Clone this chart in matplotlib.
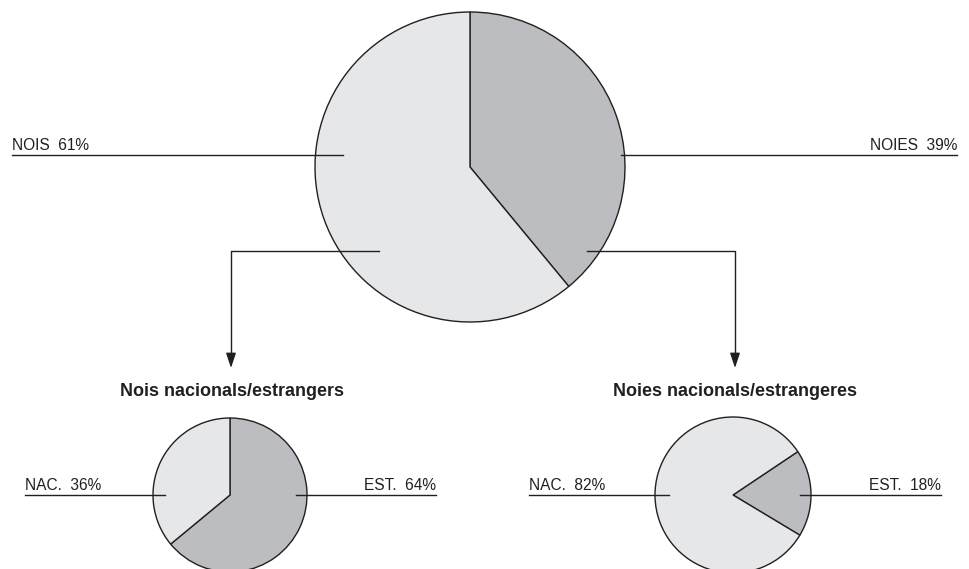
import matplotlib.pyplot as plt

plt.rcParams['font.family'] = ['Liberation Sans', 'DejaVu Sans']

# data
main_labels = ['NOIS', 'NOIES']
main_vals = [61, 39]
boys_labels = ['NAC.', 'EST.']
boys_vals = [36, 64]
girls_labels = ['NAC.', 'EST.']
girls_vals = [82, 18]
titles = ['Nois nacionals/estrangers', 'Noies nacionals/estrangeres']

light = '#e6e7e8'
gray = '#bcbdc0'
ink = '#231f20'

H = 569
def Y(y):
    # pixel row -> data y
    return H - y

fig = plt.figure(figsize=(9.69, 5.69), dpi=100)
ax = fig.add_axes([0, 0, 1, 1])

wp = dict(edgecolor=ink, linewidth=1.0)

# big pie: gray slice (NOIES) from 12 o'clock clockwise
ax.pie([main_vals[1], main_vals[0]], colors=[gray, light], startangle=90,
       counterclock=False, center=(470, Y(167)), radius=155,
       wedgeprops=wp, frame=True)

# boys pie
ax.pie([boys_vals[1], boys_vals[0]], colors=[gray, light], startangle=90,
       counterclock=False, center=(230, Y(495)), radius=77,
       wedgeprops=wp, frame=True)

# girls pie
ax.pie([girls_vals[1], girls_vals[0]], colors=[gray, light], startangle=-31,
       counterclock=True, center=(733, Y(495)), radius=78,
       wedgeprops=wp, frame=True)

fs = 11.2
# big pie labels
ax.plot([12, 343], [Y(155), Y(155)], color=ink, lw=1)
ax.plot([621, 957], [Y(155), Y(155)], color=ink, lw=1)
ax.text(12, Y(150), '%s  %d%%' % (main_labels[0], main_vals[0]), fontsize=fs,
        color=ink, ha='left', va='baseline')
ax.text(957, Y(150), '%s  %d%%' % (main_labels[1], main_vals[1]), fontsize=fs,
        color=ink, ha='right', va='baseline')

# small pie labels
for (x0, x1, x2, x3), labs, vals in [((25, 165, 296, 436), boys_labels, boys_vals),
                                     ((529, 669, 800, 941), girls_labels, girls_vals)]:
    ax.plot([x0, x1], [Y(495), Y(495)], color=ink, lw=1)
    ax.plot([x2, x3], [Y(495), Y(495)], color=ink, lw=1)
    ax.text(x0, Y(490), '%s  %d%%' % (labs[0], vals[0]), fontsize=fs,
            color=ink, ha='left', va='baseline')
    ax.text(x3, Y(490), '%s  %d%%' % (labs[1], vals[1]), fontsize=fs,
            color=ink, ha='right', va='baseline')

# titles
ax.text(232, Y(396), titles[0], fontsize=13, fontweight='bold', color=ink,
        ha='center', va='baseline')
ax.text(735, Y(396), titles[1], fontsize=13, fontweight='bold', color=ink,
        ha='center', va='baseline')

# connector arrows
for xs, xe in [(379, 231), (587, 735)]:
    ax.plot([xs, xe, xe], [Y(251), Y(251), Y(356)], color=ink, lw=1)
    ax.annotate('', xy=(xe, Y(368)), xytext=(xe, Y(354)),
                arrowprops=dict(arrowstyle='-|>,head_length=0.9,head_width=0.3',
                                color=ink, lw=1, shrinkA=0, shrinkB=0,
                                mutation_scale=10))

ax.set_xlim(0, 969)
ax.set_ylim(0, H)
ax.set_aspect('equal')
ax.axis('off')

fig.savefig('out.png', dpi=100)
